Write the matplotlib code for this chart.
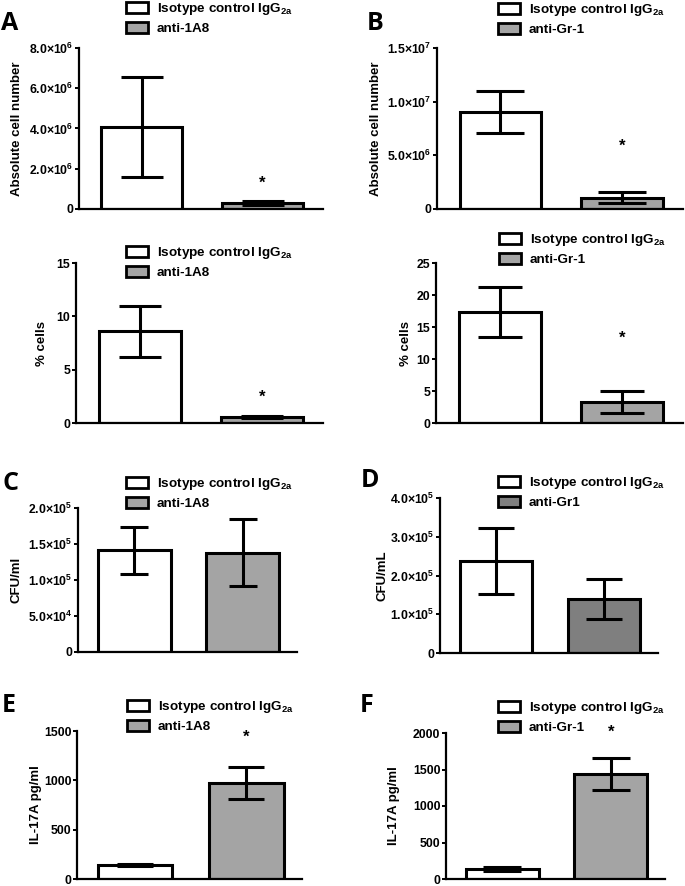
import numpy as np
import matplotlib.pyplot as plt
from matplotlib.patches import Patch
from matplotlib.ticker import FixedLocator, FuncFormatter

plt.rcParams['font.family'] = ['Liberation Sans', 'DejaVu Sans']
plt.rcParams['font.weight'] = 'bold'
plt.rcParams['mathtext.fontset'] = 'custom'
plt.rcParams['mathtext.rm'] = 'Liberation Sans'
plt.rcParams['mathtext.bf'] = 'Liberation Sans:bold'

W, H = 685, 886

# group labels
iso = 'Isotype control IgG$_{\\mathbf{2a}}$'
groups_1a8 = [iso, 'anti-1A8']
groups_gr1 = [iso, 'anti-Gr-1']
groups_gr1_d = [iso, 'anti-Gr1']

# mean values / SEM
abs_1a8 = [4.07e6, 0.30e6]
abs_1a8_err = [2.5e6, 0.1e6]
abs_gr1 = [9.0e6, 1.05e6]
abs_gr1_err = [1.95e6, 0.5e6]
pct_1a8 = [8.6, 0.55]
pct_1a8_err = [2.4, 0.12]
pct_gr1 = [17.3, 3.3]
pct_gr1_err = [3.9, 1.7]
cfu_1a8 = [1.41e5, 1.38e5]
cfu_1a8_err = [0.33e5, 0.47e5]
cfu_gr1 = [2.38e5, 1.40e5]
cfu_gr1_err = [0.85e5, 0.52e5]
il17_1a8 = [142, 973]
il17_1a8_err = [15, 162]
il17_gr1 = [135, 1438]
il17_gr1_err = [25, 215]

WHITE = 'white'
GREY = '#a4a4a4'
DARK = '#7f7f7f'


def sci_label(v, pos=None):
    if v == 0:
        return '0'
    e = int(np.floor(np.log10(abs(v)) + 1e-9))
    m = v / 10 ** e
    return '%.1f\u00d710$^{\\mathbf{%d}}$' % (m, e)


def int_label(v, pos=None):
    return '%d' % v


fig = plt.figure(figsize=(W / 100, H / 100), dpi=100)


def panel(box, means, errs, colors, labels, yticks, fmt, ylabel, ylabel_px,
          leg_xy, capsize, star=None, letter=None):
    left, right, top, bottom = box
    ax = fig.add_axes([left / W, 1 - bottom / H, (right - left) / W, (bottom - top) / H])
    x = np.arange(len(means))
    ax.bar(x, means, width=0.67, color=colors, edgecolor='black', linewidth=2.2, zorder=2)
    ax.errorbar(x, means, yerr=errs, fmt='none', ecolor='black', elinewidth=2.2,
                capsize=capsize, capthick=2.2, zorder=3)
    ax.set_xlim(-0.52, 1.5)
    ax.set_ylim(0, yticks[-1])
    ax.yaxis.set_major_locator(FixedLocator(yticks))
    ax.yaxis.set_major_formatter(FuncFormatter(fmt))
    ax.set_xticks([])
    for s in ['top', 'right']:
        ax.spines[s].set_visible(False)
    for s in ['left', 'bottom']:
        ax.spines[s].set_linewidth(1.6)
    ax.tick_params(axis='y', length=3, width=1.4, labelsize=8.8, pad=1)
    ax.set_ylabel(ylabel, fontsize=9.5, fontweight='bold')
    ax.yaxis.set_label_coords((ylabel_px - left) / (right - left), 0.5)
    handles = [Patch(facecolor=c, edgecolor='black', linewidth=2) for c in colors]
    ax.legend(handles, labels, loc='upper left',
              bbox_to_anchor=(leg_xy[0] / W, 1 - leg_xy[1] / H),
              bbox_transform=fig.transFigure, frameon=False, borderpad=0,
              borderaxespad=0, handlelength=1.6, handleheight=0.9,
              handletextpad=0.7, labelspacing=0.35,
              prop=dict(weight='bold', size=9.7))
    if star is not None:
        ax.text(1, star, '*', ha='center', va='center', fontsize=12,
                fontweight='bold', clip_on=False)
    if letter is not None:
        fig.text(letter[1] / W, 1 - letter[2] / H, letter[0], ha='center', va='center',
                 fontsize=18, fontweight='bold', family='Open Sans')
    return ax


panel((79, 323, 48, 209), abs_1a8, abs_1a8_err, [WHITE, GREY], groups_1a8,
      [0, 2e6, 4e6, 6e6, 8e6], sci_label, 'Absolute cell number', 23,
      (126, 1), 15, star=1.3e6, letter=('A', 10, 24))
panel((437, 683, 48, 209), abs_gr1, abs_gr1_err, [WHITE, GREY], groups_gr1,
      [0, 5e6, 1e7, 1.5e7], sci_label, 'Absolute cell number', 382,
      (498, 2), 17, star=5.8e6, letter=('B', 375, 24))
panel((76, 323, 263, 423), pct_1a8, pct_1a8_err, [WHITE, GREY], groups_1a8,
      [0, 5, 10, 15], int_label, '% cells', 48,
      (126, 245), 15, star=2.4)
panel((436, 683, 263, 423), pct_gr1, pct_gr1_err, [WHITE, GREY], groups_gr1,
      [0, 5, 10, 15, 20, 25], int_label, '% cells', 412,
      (499, 232), 16, star=13.3)
panel((78, 297, 508, 652), cfu_1a8, cfu_1a8_err, [WHITE, GREY], groups_1a8,
      [0, 5e4, 1e5, 1.5e5, 2e5], sci_label, 'CFU/ml', 23,
      (126, 476), 10, letter=('C', 10, 483))
panel((440, 658, 498, 653), cfu_gr1, cfu_gr1_err, [WHITE, DARK], groups_gr1_d,
      [0, 1e5, 2e5, 3e5, 4e5], sci_label, 'CFU/mL', 388,
      (498, 475), 13, letter=('D', 370, 480))
panel((77, 302, 731, 879), il17_1a8, il17_1a8_err, [WHITE, GREY], groups_1a8,
      [0, 500, 1000, 1500], int_label, 'IL-17A pg/ml', 42,
      (127, 699), 13, star=1440, letter=('E', 9, 706))
panel((446, 665, 733, 879), il17_gr1, il17_gr1_err, [WHITE, GREY], groups_gr1,
      [0, 500, 1000, 1500, 2000], int_label, 'IL-17A pg/ml', 400,
      (498, 700), 14, star=2010, letter=('F', 367, 706))

fig.savefig('out.png', dpi=100)
